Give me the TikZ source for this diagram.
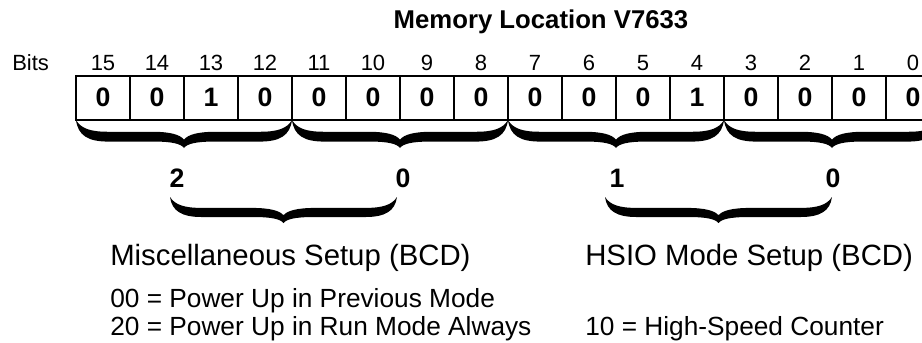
\documentclass[tikz,border=0pt]{standalone}
\usepackage{fontspec}
\setmainfont{Liberation Sans}

% one picture unit is one pixel of the 922x343 sheet, y runs downwards
\newcommand{\cellx}[1]{76+54*(15-#1)+27}
% filled brace: left x, right x, top y, depth
\newcommand{\brc}[4]{%
  \fill ({#1},{#3}) .. controls ({#1+2},{#3+0.55*#4}) and ({#1+12},{#3+0.77*#4}) .. ({#1+32},{#3+0.77*#4})
    -- ({(#1+#2)/2-30},{#3+0.77*#4}) .. controls ({(#1+#2)/2-12},{#3+0.77*#4}) and ({(#1+#2)/2-3},{#3+0.85*#4}) .. ({(#1+#2)/2},{#3+#4})
    .. controls ({(#1+#2)/2+3},{#3+0.85*#4}) and ({(#1+#2)/2+12},{#3+0.77*#4}) .. ({(#1+#2)/2+30},{#3+0.77*#4})
    -- ({#2-32},{#3+0.77*#4}) .. controls ({#2-12},{#3+0.77*#4}) and ({#2-2},{#3+0.55*#4}) .. ({#2},{#3})
    .. controls ({#2-5},{#3+0.3*#4}) and ({#2-14},{#3+0.42*#4}) .. ({#2-32},{#3+0.42*#4})
    -- ({(#1+#2)/2+32},{#3+0.42*#4}) .. controls ({(#1+#2)/2+14},{#3+0.42*#4}) and ({(#1+#2)/2+4},{#3+0.52*#4}) .. ({(#1+#2)/2},{#3+0.7*#4})
    .. controls ({(#1+#2)/2-4},{#3+0.52*#4}) and ({(#1+#2)/2-14},{#3+0.42*#4}) .. ({(#1+#2)/2-32},{#3+0.42*#4})
    -- ({#1+32},{#3+0.42*#4}) .. controls ({#1+14},{#3+0.42*#4}) and ({#1+5},{#3+0.3*#4}) .. ({#1},{#3}) -- cycle;}

\tikzset{
  cell/.style={draw, line width=0.9pt, minimum width=40.5pt, minimum height=33pt,
    inner sep=0pt, outer sep=0pt, text height=1.2em, text depth=0pt,
    font=\fontsize{20}{24}\selectfont\bfseries},
  bitnum/.style={anchor=base, inner sep=0pt, font=\fontsize{16.5}{20}\selectfont},
  sumdigit/.style={inner sep=0pt, font=\fontsize{20}{24}\selectfont\bfseries},
  heading/.style={anchor=base west, inner sep=0pt, font=\fontsize{22}{26}\selectfont},
  entry/.style={anchor=base west, inner sep=0pt, font=\fontsize{19.7}{24}\selectfont}
}

\begin{document}
\begin{tikzpicture}[x=0.75pt, y=-0.75pt]
  \useasboundingbox (0,0) rectangle (922,343);

  \node[anchor=base, inner sep=0pt, font=\fontsize{19.3}{23}\selectfont\bfseries]
    (title) at (541,28) {Memory Location V7633};
  \node[bitnum, anchor=base west] (bits) at (12,70) {Bits};

  % the sixteen bits of the word
  \foreach \b/\v in {15/0,14/0,13/1,12/0,11/0,10/0,9/0,8/0,7/0,6/0,5/0,4/1,3/0,2/0,1/0,0/0} {
    \node[bitnum] (n\b) at ({\cellx{\b}},70) {\b};
    \node[cell] (c\b) at ({\cellx{\b}},98) {\v};
  }

  % one brace per BCD digit
  \brc{76}{292}{120}{28}
  \brc{292}{508}{120}{28}
  \brc{508}{724}{120}{28}
  \brc{724}{940}{120}{28}

  \node[sumdigit] (d3) at (177,178) {2};
  \node[sumdigit] (d2) at (403,178) {0};
  \node[sumdigit] (d1) at (617,178) {1};
  \node[sumdigit] (d0) at (833,178) {0};

  \brc{170}{397}{197}{26}
  \brc{605}{832}{197}{26}

  \node[heading] (misc) at (110,265) {Miscellaneous Setup (BCD)};
  \node[heading] (hsio) at (585,265) {HSIO Mode Setup (BCD)};
  \node[entry] (m00) at (110,307) {00 = Power Up in Previous Mode};
  \node[entry] (m20) at (110,335) {20 = Power Up in Run Mode Always};
  \node[entry] (h10) at (585,335) {10 = High-Speed Counter};
\end{tikzpicture}
\end{document}
